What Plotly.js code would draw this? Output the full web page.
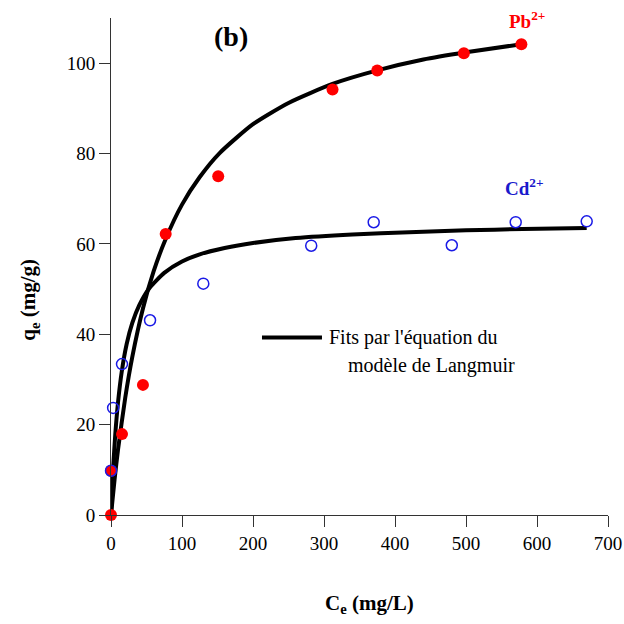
<!DOCTYPE html>
<html>
<head>
<meta charset="utf-8">
<script src="https://cdn.plot.ly/plotly-3.0.1.min.js"></script>
<style>
  html, body { margin: 0; padding: 0; background: #ffffff; }
  #chart { width: 624px; height: 624px; }
</style>
</head>
<body>
<div id="chart"></div>
<script>
// Measured adsorption points (Ce in mg/L, qe in mg/g)
const pbCe = [0, 0, 15.5, 45, 77, 151, 312, 375, 497, 578];
const pbQe = [0, 9.8, 17.9, 28.8, 62.2, 75, 94.2, 98.4, 102.2, 104.2];

const cdCe = [0, 3, 15.5, 55, 130, 282, 370, 480, 570, 670];
const cdQe = [9.8, 23.7, 33.4, 43.1, 51.2, 59.6, 64.8, 59.7, 64.8, 65.0];

// Langmuir fit curves, sampled along Ce
const pbFitCe = [0, 5, 10, 20, 30, 45, 60, 77, 100, 125, 153, 200, 250, 312, 375, 440, 500, 578];
const pbFitQe = [0, 7.8, 14.6, 25.9, 35.0, 45.7, 53.9, 61.1, 68.7, 74.8, 80.1, 86.5, 91.2, 95.4, 98.4, 100.8, 102.4, 104.2];

const cdFitCe = [0, 3, 6, 10, 15, 22, 30, 40, 54, 75, 100, 125, 160, 200, 260, 340, 420, 500, 580, 670];
const cdFitQe = [0, 10.3, 17.8, 25.1, 31.6, 37.8, 42.5, 46.5, 50.2, 53.6, 56.1, 57.7, 59.1, 60.2, 61.3, 62.1, 62.6, 63.0, 63.3, 63.5];

const xTicks = [0, 100, 200, 300, 400, 500, 600, 700];
const yTicks = [0, 20, 40, 60, 80, 100];

const serif = 'Liberation Serif';

const traces = [
  {
    x: pbFitCe, y: pbFitQe, mode: 'lines', type: 'scatter',
    line: { color: '#000000', width: 4, shape: 'spline', smoothing: 0.6 },
    hoverinfo: 'skip', showlegend: false
  },
  {
    x: cdFitCe, y: cdFitQe, mode: 'lines', type: 'scatter',
    line: { color: '#000000', width: 4, shape: 'spline', smoothing: 0.6 },
    hoverinfo: 'skip', showlegend: false
  },
  {
    x: pbCe, y: pbQe, mode: 'markers', type: 'scatter', name: 'Pb2+',
    marker: { symbol: 'circle', size: 12, color: '#ff0000' },
    cliponaxis: false, showlegend: false
  },
  {
    x: cdCe, y: cdQe, mode: 'markers', type: 'scatter', name: 'Cd2+',
    marker: { symbol: 'circle-open', size: 11, color: '#1a1ae6', line: { width: 1.5, color: '#1a1ae6' } },
    cliponaxis: false, showlegend: false
  }
];

const layout = {
  width: 624, height: 624,
  margin: { l: 111, r: 16, t: 18, b: 109 },
  paper_bgcolor: '#ffffff', plot_bgcolor: '#ffffff',
  font: { family: serif, size: 19, color: '#000000' },
  showlegend: false,
  xaxis: {
    range: [0, 700], tickvals: xTicks, ticktext: xTicks.map(String),
    showgrid: false, zeroline: false, showline: true, linecolor: '#333333', linewidth: 1,
    ticks: 'outside', ticklen: 11, tickcolor: '#333333', tickwidth: 1,
    tickfont: { family: serif, size: 19, color: '#000000' }
  },
  yaxis: {
    range: [0, 110], tickvals: yTicks, ticktext: yTicks.map(String),
    showgrid: false, zeroline: false, showline: true, linecolor: '#333333', linewidth: 1,
    ticks: 'outside', ticklen: 11, tickcolor: '#333333', tickwidth: 1,
    tickfont: { family: serif, size: 19, color: '#000000' }
  },
  shapes: [
    {
      type: 'line', xref: 'paper', yref: 'paper',
      x0: 0.3038, x1: 0.4245, y0: 0.3571, y1: 0.3571,
      line: { color: '#000000', width: 4 }
    }
  ],
  annotations: [
    {
      text: '<b>(b)</b>', xref: 'x', yref: 'y', x: 169, y: 106,
      showarrow: false, font: { family: serif, size: 28, color: '#000000' }
    },
    {
      text: '<b>Pb<sup>2+</sup></b>', xref: 'x', yref: 'y', x: 586, y: 109.5,
      showarrow: false, font: { family: serif, size: 19, color: '#ff0000' }
    },
    {
      text: '<b>Cd<sup>2+</sup></b>', xref: 'x', yref: 'y', x: 583, y: 72.5,
      showarrow: false, font: { family: serif, size: 19, color: '#1a1acc' }
    },
    {
      text: "Fits par l'équation du", xref: 'paper', yref: 'paper',
      x: 0.4346, y: 0.3581, xanchor: 'left', yanchor: 'middle',
      showarrow: false, font: { family: serif, size: 20, color: '#000000' }
    },
    {
      text: 'modèle de Langmuir', xref: 'paper', yref: 'paper',
      x: 0.4728, y: 0.3018, xanchor: 'left', yanchor: 'middle',
      showarrow: false, font: { family: serif, size: 20, color: '#000000' }
    },
    {
      text: '<b>C<sub>e</sub> (mg/L)</b>', xref: 'paper', yref: 'paper',
      x: 0.521, y: -0.179, xanchor: 'center', yanchor: 'middle',
      showarrow: false, font: { family: serif, size: 21, color: '#000000' }
    },
    {
      text: '<b>q<sub>e</sub> (mg/g)</b>', xref: 'paper', yref: 'paper',
      x: -0.165, y: 0.433, xanchor: 'center', yanchor: 'middle', textangle: -90,
      showarrow: false, font: { family: serif, size: 21, color: '#000000' }
    }
  ]
};

Plotly.newPlot('chart', traces, layout, { staticPlot: true, displayModeBar: false });
</script>
</body>
</html>
